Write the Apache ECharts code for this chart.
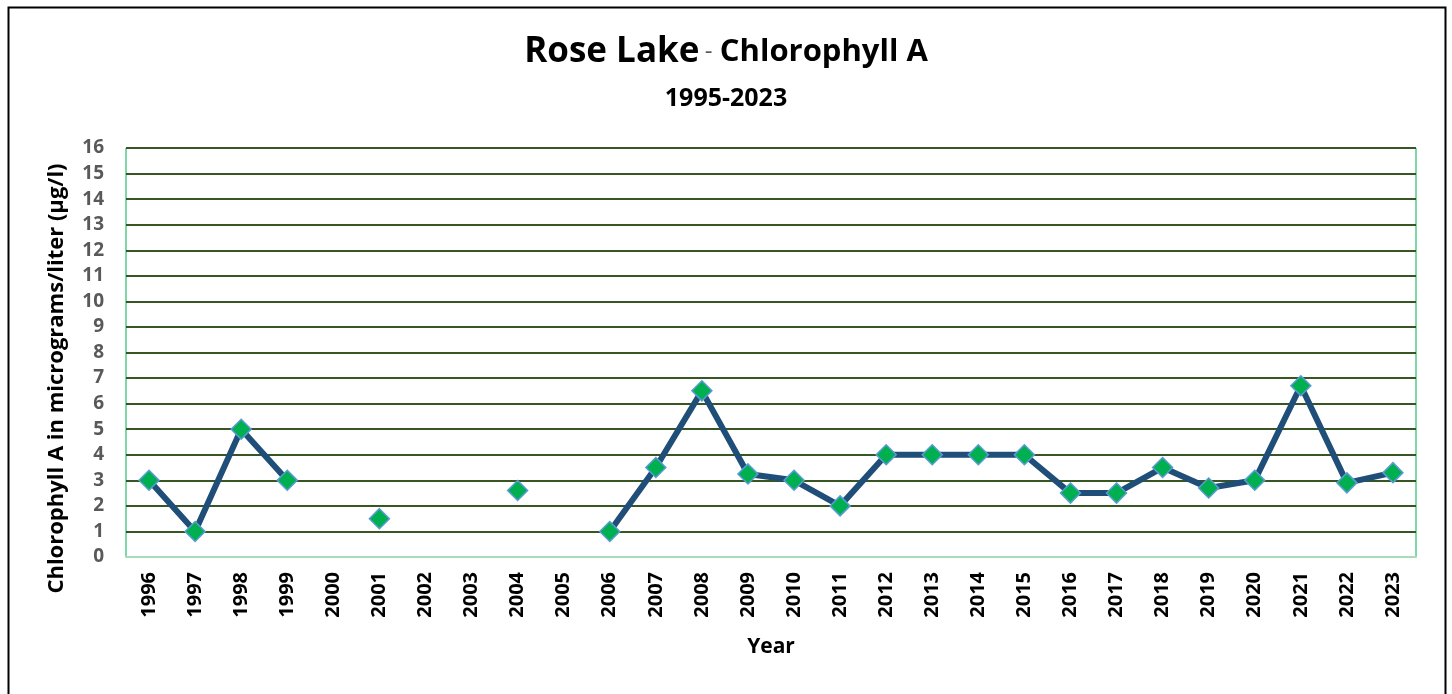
<!DOCTYPE html>
<html>
<head>
<meta charset="utf-8">
<script src="https://cdn.jsdelivr.net/npm/echarts@6/dist/echarts.min.js"></script>
<style>
html,body{margin:0;padding:0;background:#fff;}
#c{width:1452px;height:694px;}
</style>
</head>
<body>
<div id="c"></div>
<script>
const years = ['1996','1997','1998','1999','2000','2001','2002','2003','2004','2005','2006','2007','2008','2009','2010','2011','2012','2013','2014','2015','2016','2017','2018','2019','2020','2021','2022','2023'];
const chlorophyll = [3, 1, 5, 3, null, 1.5, null, null, 2.6, null, 1, 3.5, 6.5, 3.25, 3, 2, 4, 4, 4, 4, 2.5, 2.5, 3.5, 2.7, 3, 6.7, 2.9, 3.3];
const titleMain = 'Rose Lake';
const titleRest = 'Chlorophyll A';
const subtitle = '1995-2023';
const yName = 'Chlorophyll A in micrograms/liter (µg/l)';
const xName = 'Year';

const FONT = '"Open Sans", Lato, sans-serif';
const chart = echarts.init(document.getElementById('c'), null, {renderer:'canvas'});
chart.setOption({
  backgroundColor: '#fff',
  animation: false,
  graphic: [
    {type:'rect', left:6, top:5, shape:{width:1437, height:720}, style:{fill:'none', stroke:'#000', lineWidth:2}, z:100},
    {type:'text', left:'center', top:35, style:{
      rich:{a:{fontSize:35, fontWeight:'bold', fontFamily:FONT, fill:'#000'}, d:{fontSize:24, fontFamily:FONT, fill:'#595959', padding:[0,4,0,2]}, b:{fontSize:31, fontWeight:'bold', fontFamily:FONT, fill:'#000'}},
      text:'{a|' + titleMain + '} {d|-} {b|' + titleRest + '}'
    }},
    {type:'text', left:'center', top:86, style:{text:subtitle, fontSize:25, fontWeight:'bold', fontFamily:FONT, fill:'#000'}}
  ],
  grid: {left:126, right:36, top:148, bottom:137, show:true, borderColor:'#00B050', borderWidth:1},
  xAxis: {
    type:'category', data:years, boundaryGap:true,
    name:xName, nameLocation:'middle', nameGap:80,
    nameTextStyle:{fontSize:21, fontWeight:'bold', fontFamily:FONT, color:'#000'},
    axisLine:{show:true, lineStyle:{color:'#A8DCB6', width:2}},
    axisTick:{show:false},
    axisLabel:{rotate:90, fontSize:20, fontWeight:'bold', fontFamily:FONT, color:'#000', margin:15, interval:0}
  },
  yAxis: {
    type:'value', min:0, max:16, interval:1,
    name:yName, nameLocation:'middle', nameGap:58,
    nameTextStyle:{fontSize:22, fontWeight:'bold', fontFamily:FONT, color:'#000', padding:[0,52,0,0]},
    axisLine:{show:false}, axisTick:{show:false},
    axisLabel:{fontSize:19, fontWeight:'bold', fontFamily:FONT, color:'#595959', margin:22},
    splitLine:{show:true, lineStyle:{color:'#375623', width:2}}
  },
  series: [{
    type:'line', data:chlorophyll, connectNulls:false,
    lineStyle:{color:'#1F4E79', width:6},
    symbol:'diamond', symbolSize:20,
    itemStyle:{color:'#00B050', borderColor:'#5B9BD5', borderWidth:1.5},
    z:5
  }]
});
</script>
</body>
</html>
